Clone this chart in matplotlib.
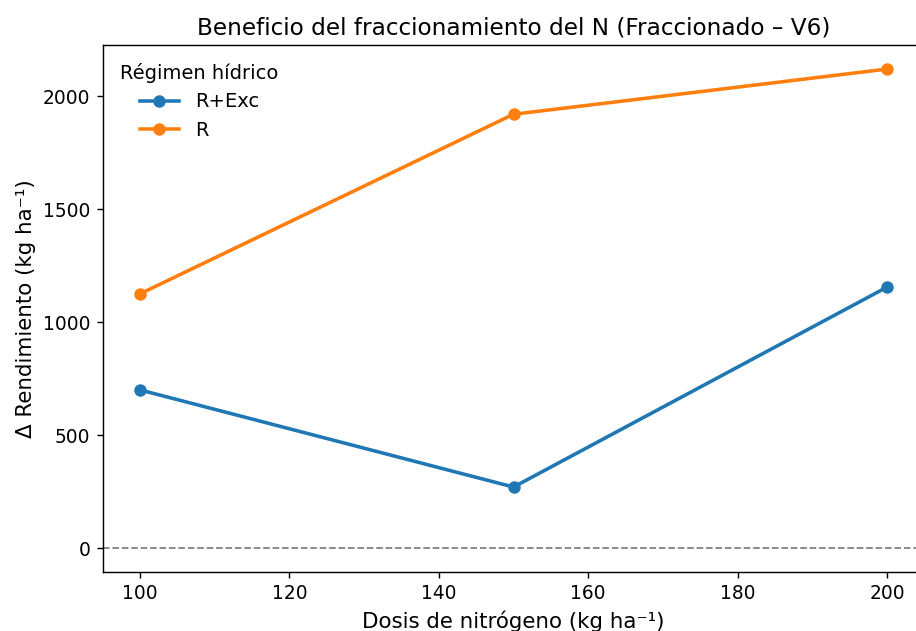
import matplotlib
matplotlib.use('Agg')
import matplotlib.pyplot as plt

# Datos
dosis = [100, 150, 200]
delta_r_exc = [700, 270, 1155]
delta_r = [1125, 1920, 2120]
regimenes = ['R+Exc', 'R']

fig = plt.figure(figsize=(916 / 128, 631 / 128), dpi=128)
ax = fig.add_axes([0.112, 0.0935, 0.8972, 0.835])

ax.plot(dosis, delta_r_exc, marker='o', label=regimenes[0], linewidth=2)
ax.plot(dosis, delta_r, marker='o', label=regimenes[1], linewidth=2)
ax.axhline(0, color='gray', linestyle='--', linewidth=1)

ax.set_title('Beneficio del fraccionamiento del N (Fraccionado – V6)', fontsize=13)
ax.set_xlabel('Dosis de nitrógeno (kg ha⁻¹)', fontsize=12)
ax.set_ylabel('Δ Rendimiento (kg ha⁻¹)', fontsize=12)
ax.tick_params(labelsize=10.5)
ax.legend(title='Régimen hídrico', loc='upper left', frameon=False,
          fontsize=11, title_fontsize=11)

fig.savefig('out.png', dpi=128)
